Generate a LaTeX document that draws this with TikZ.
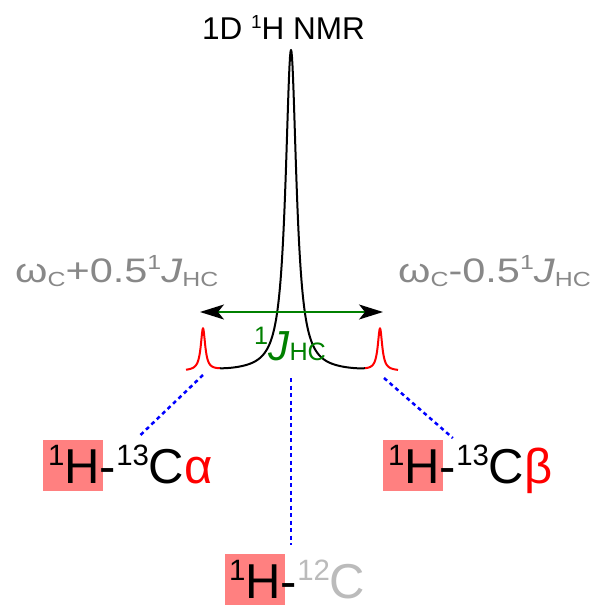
\documentclass[tikz,border=0pt]{standalone}
\usepackage{fontspec}
\setmainfont{Liberation Sans}
\newfontfamily\widefont[FakeStretch=1.22]{Liberation Sans}
\usepackage{xcolor}
\usetikzlibrary{arrows.meta, positioning, calc}

\definecolor{labgray}{RGB}{136,136,136}
\definecolor{isogray}{RGB}{187,187,187}
\definecolor{hlpink}{RGB}{255,128,128}
\definecolor{jgreen}{RGB}{0,128,0}

\newcommand{\sups}[1]{\raisebox{0.36em}{\scalebox{0.6}{#1}}}
\newcommand{\subs}[1]{\raisebox{-0.12em}{\scalebox{0.6}{#1}}}

\begin{document}
\begin{tikzpicture}[
        x=1pt, y=-1pt,
        declare function={lor(\p,\c,\h,\g)=\h/(1+((\p-\c)/\g)*((\p-\c)/\g));
                          spec(\p)=lor(\p,291,322,6.6)+lor(\p,203,42,2.65)+lor(\p,380,42,2.65);},
        spectrum/.style={line width=2pt, line join=round},
        satellite/.style={spectrum, red},
        link/.style={blue, line width=2.5pt, dash pattern=on 4pt off 3.5pt},
        coupling/.style={jgreen, line width=1.5pt, arrows={Stealth[black, length=24pt, width=15pt, inset=6pt]-Stealth[black, length=24pt, width=15pt, inset=6pt]}},
        shiftlabel/.style={labgray, font=\widefont\fontsize{34}{36}\selectfont, inner sep=0pt, anchor=base west},
        isolabel/.style={font=\fontsize{49}{50}\selectfont, inner sep=0pt, anchor=base west},
        hbox/.style={fill=hlpink, inner sep=0pt, minimum width=60pt, minimum height=51pt}
    ]
        \useasboundingbox (0,0) rectangle (594,609);

        \node[anchor=base west, inner sep=0pt, font=\fontsize{31.5}{33}\selectfont] (title) at (202,40) {1D \sups{1}H NMR};
        \node[shiftlabel] (wplus) at (15,282) {ω\subs{C}+0.5\sups{1}\textit{J}\subs{HC}};
        \node[shiftlabel] (wminus) at (398,282) {ω\subs{C}-0.5\sups{1}\textit{J}\subs{HC}};

        \draw[satellite] plot[domain=186:220, samples=69] (\x,{372-spec(\x)});
        \draw[spectrum] plot[domain=220:365, samples=291] (\x,{372-spec(\x)});
        \draw[satellite] plot[domain=365:398, samples=67] (\x,{372-spec(\x)});

        \coordinate (jl) at (200,312);
        \coordinate (jr) at (383,312);
        \draw[coupling] (jl) -- (jr);
        \node[anchor=base west, inner sep=0pt, jgreen, font=\fontsize{42}{44}\selectfont] (jhc) at (254,360) {\sups{1}\textit{J}\scalebox{0.6}{HC}};

        \node[hbox] (boxa) at (73,465) {};
        \node[isolabel] (ca) at (48,483) {\sups{1}H-\sups{13}C\textcolor{red}{α}};
        \node[hbox] (boxb) at (413,465) {};
        \node[isolabel] (cb) at (388,483) {\sups{1}H-\sups{13}C\textcolor{red}{β}};
        \node[hbox] (boxc) at (255,579) {};
        \node[isolabel] (cc) at (229,598) {\sups{1}H-\textcolor{isogray}{\sups{12}C}};

        \coordinate (sata) at (203,375);
        \coordinate (satb) at (384,378);
        \coordinate (main) at (291,378);
        \draw[link, shorten >=14pt] (sata) -- (ca.north);
        \draw[link, shorten >=10pt] (satb) -- ([xshift=-10pt]cb.north);
        \draw[link, shorten >=15pt] (main) -- (main |- cc.north);
    \end{tikzpicture}
\end{document}
